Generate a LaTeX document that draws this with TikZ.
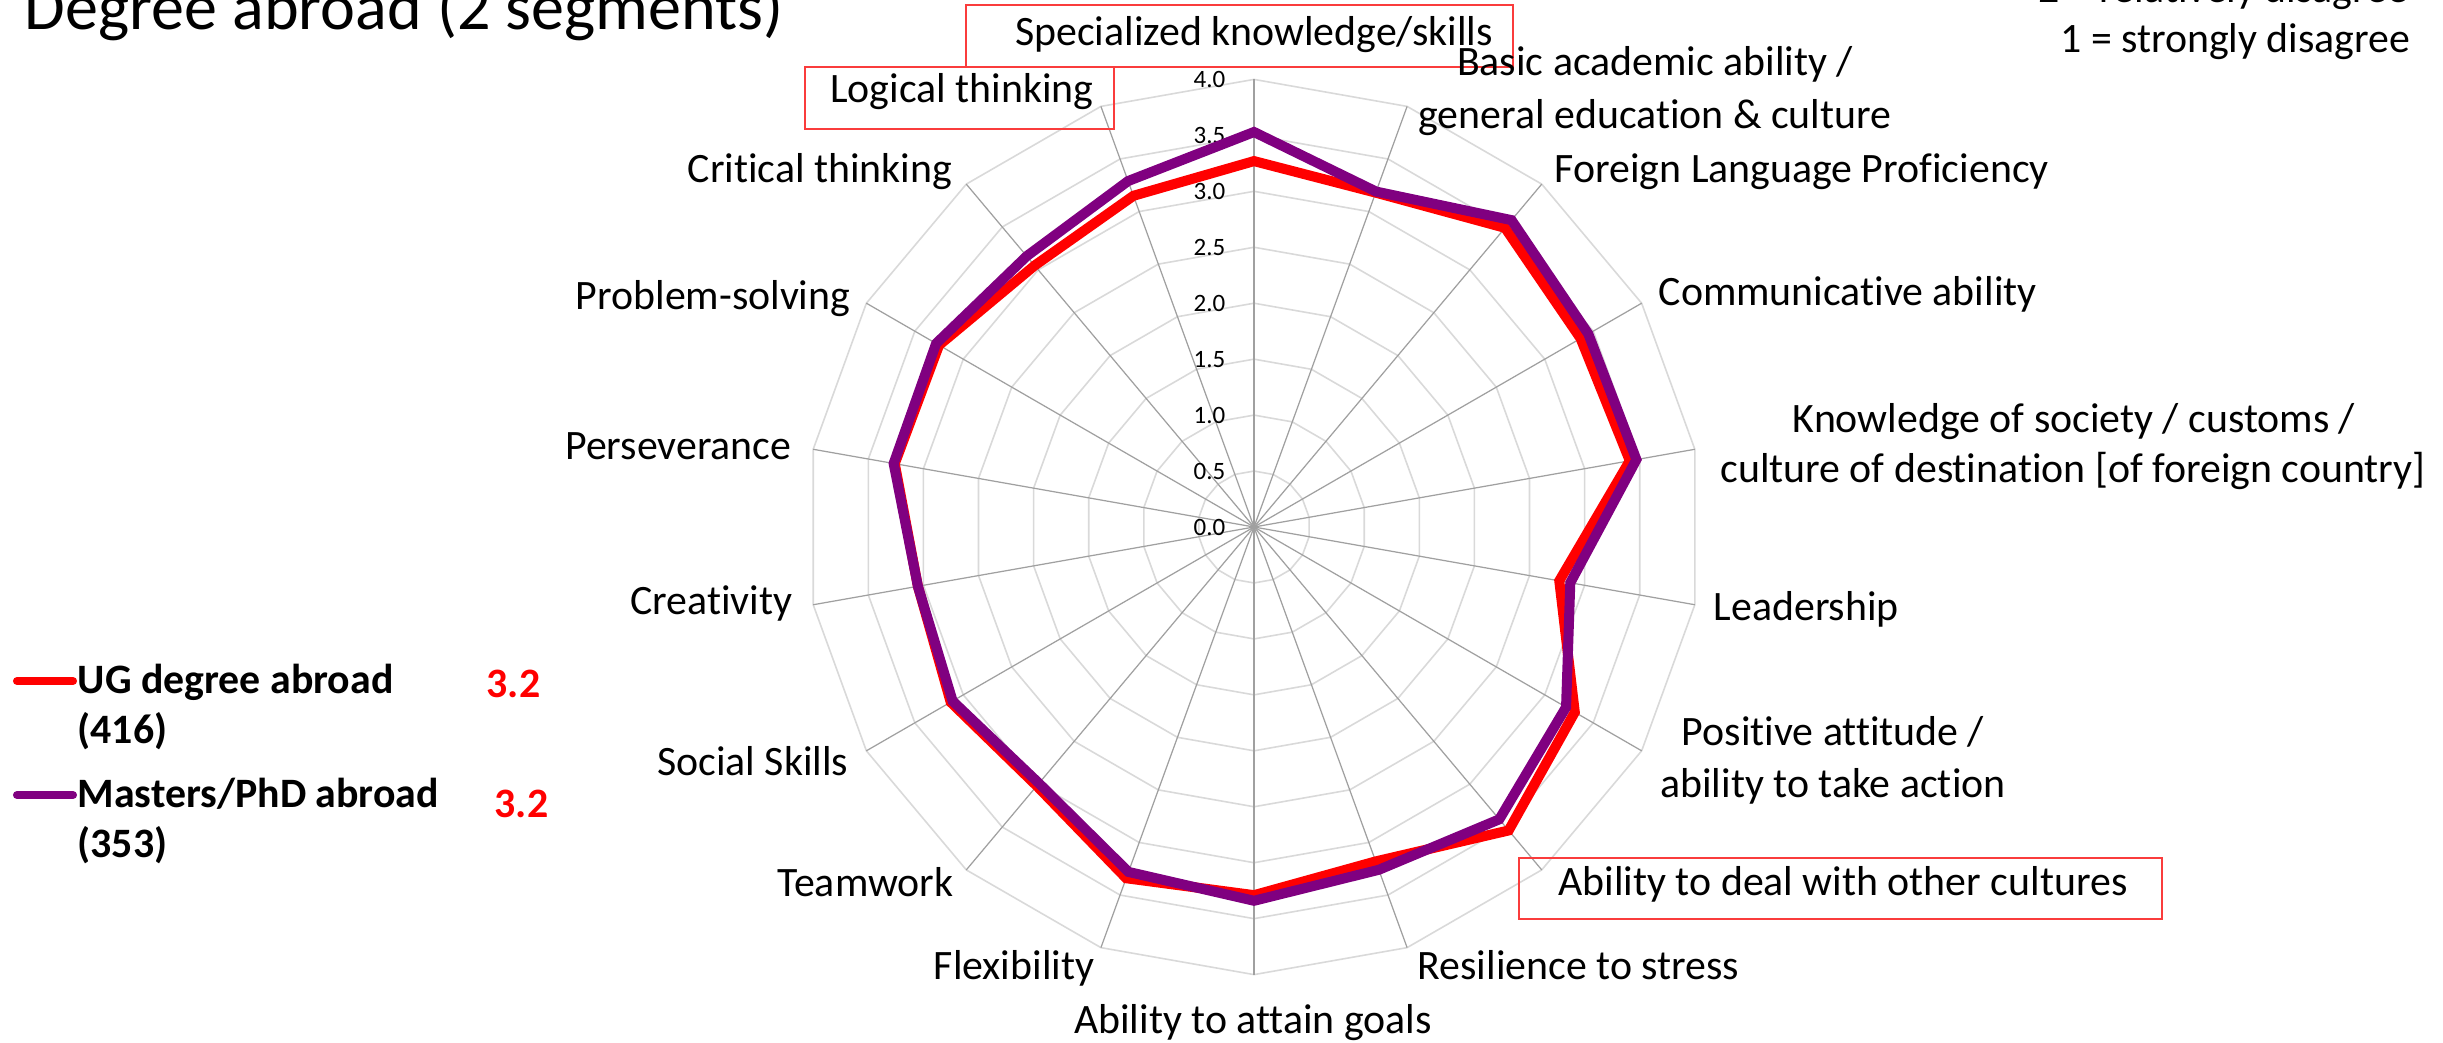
\documentclass[tikz,border=0pt]{standalone}
\usepackage{fontspec}
\setmainfont{Carlito}[Ligatures={NoCommon}]
\definecolor{ringc}{RGB}{217,217,217}
\definecolor{spokec}{RGB}{160,160,160}
\definecolor{ugred}{RGB}{255,0,0}
\definecolor{mspurple}{RGB}{128,0,128}
\definecolor{boxred}{RGB}{250,60,60}
\begin{document}
\begin{tikzpicture}[x=0.01cm,y=-0.01cm,
  lbl/.style={font=\fontsize{11.9}{14.2}\selectfont, inner sep=0pt},
  lgd/.style={font=\fontsize{11.9}{14.2}\selectfont\bfseries, inner sep=0pt},
  ttl/.style={font=\fontsize{18.8}{22}\selectfont, inner sep=0pt},
  tick/.style={font=\fontsize{7.1}{8.5}\selectfont, inner sep=0pt},
  ring/.style={draw=ringc, line width=0.45pt},
  spoke/.style={draw=spokec, line width=0.35pt},
  vaxis/.style={draw=spokec, line width=0.8pt},
  ugline/.style={draw=ugred, line width=2.85pt},
  msline/.style={draw=mspurple, line width=2.85pt},
  lgline/.style={line width=2.3pt, line cap=round},
  hibox/.style={draw=boxred, line width=0.6pt}]
\useasboundingbox (0,0) rectangle (2443,1042);
\fill[white] (0,0) rectangle (2443,1042);
\def\U{111.9}
% radar grid
\begin{scope}[shift={(1254,527)}]
  \foreach \k in {1,...,8}{
    \draw[ring] (-90:{0.5*\k*\U}) \foreach \i in {1,...,17}{ -- ({20*\i-90}:{0.5*\k*\U}) } -- cycle;
  }
  \foreach \i in {1,...,17}{
    \draw[spoke] (0,0) -- ({20*\i-90}:{4*\U});
  }
  \draw[vaxis] (0,0) -- (-90:{4*\U});
  \foreach \v/\t [count=\n] in {0/0.0,0.5/0.5,1/1.0,1.5/1.5,2/2.0,2.5/2.5,3/3.0,3.5/3.5,4/4.0}{
    \node[tick, anchor=east] (tick\n) at (-28,{-\v*\U}) {\t};
  }
  % data
  \draw[ugline] (-90:{3.27*\U}) \foreach \v [count=\i] in {3.18,3.49,3.37,3.41,2.77,3.31,3.54,3.18,3.29,3.34,3.02,3.13,3.05,3.26,3.25,3.05,3.15}{ -- ({20*\i-90}:{\v*\U}) } -- cycle;
  \draw[msline] (-90:{3.53*\U}) \foreach \v [count=\i] in {3.19,3.58,3.45,3.47,2.87,3.22,3.41,3.26,3.34,3.28,2.99,3.11,3.05,3.27,3.28,3.16,3.29}{ -- ({20*\i-90}:{\v*\U}) } -- cycle;
\end{scope}
% highlight boxes
\draw[hibox] (966,5) rectangle (1513,67);
\draw[hibox] (805,67) rectangle (1114,129);
\draw[hibox] (1519,858) rectangle (2162,919);
% title and scale note
\node[ttl, anchor=base east] (title) at (784,29) {Degree abroad (2 segments)};
\node[lbl, anchor=base east] (scale2) at (2409,2) {2 = relatively disagree};
\node[lbl, anchor=base east] (scale1) at (2411,52) {1 = strongly disagree};
% axis labels
\node[lbl, anchor=base] (spec) at (1254,45) {Specialized knowledge/skills};
\node[lbl, anchor=base] (logic) at (962,102) {Logical thinking};
\node[lbl, anchor=base] (basicA) at (1655,75) {Basic academic ability /};
\node[lbl, anchor=base] (basicB) at (1655,128) {general education \& culture};
\node[lbl, anchor=base west] (foreign) at (1554,182) {Foreign Language Proficiency};
\node[lbl, anchor=base west] (comm) at (1658,305) {Communicative ability};
\node[lbl, anchor=base] (knowA) at (2074,432) {Knowledge of society / customs /};
\node[lbl, anchor=base] (knowB) at (2073,482) {culture of destination [of foreign country]};
\node[lbl, anchor=base west] (lead) at (1713,620) {Leadership};
\node[lbl, anchor=base] (posA) at (1833,745) {Positive attitude /};
\node[lbl, anchor=base] (posB) at (1833,797) {ability to take action};
\node[lbl, anchor=base] (cult) at (1843,895) {Ability to deal with other cultures};
\node[lbl, anchor=base west] (resil) at (1417,979) {Resilience to stress};
\node[lbl, anchor=base] (attain) at (1253,1033) {Ability to attain goals};
\node[lbl, anchor=base east] (flex) at (1095,979) {Flexibility};
\node[lbl, anchor=base east] (team) at (954,896) {Teamwork};
\node[lbl, anchor=base east] (social) at (849,775) {Social Skills};
\node[lbl, anchor=base east] (creat) at (793,614) {Creativity};
\node[lbl, anchor=base east] (persev) at (792,459) {Perseverance};
\node[lbl, anchor=base east] (problem) at (851,309) {Problem-solving};
\node[lbl, anchor=base east] (critical) at (953,182) {Critical thinking};
% legend
\coordinate (ugL) at (17,681);
\coordinate (ugR) at (73,681);
\coordinate (msL) at (17,795);
\coordinate (msR) at (73,795);
\draw[lgline, draw=ugred] (ugL) -- (ugR);
\draw[lgline, draw=mspurple] (msL) -- (msR);
\node[lgd, anchor=base west] (ugA) at (77,693) {UG degree abroad};
\node[lgd, anchor=base west] (ugB) at (77,743) {(416)};
\node[lgd, anchor=base west, text=ugred] (ugV) at (486,697) {3.2};
\node[lgd, anchor=base west] (msA) at (77,807) {Masters/PhD abroad};
\node[lgd, anchor=base west] (msB) at (77,857) {(353)};
\node[lgd, anchor=base west, text=ugred] (msV) at (494,817) {3.2};
\end{tikzpicture}
\end{document}
